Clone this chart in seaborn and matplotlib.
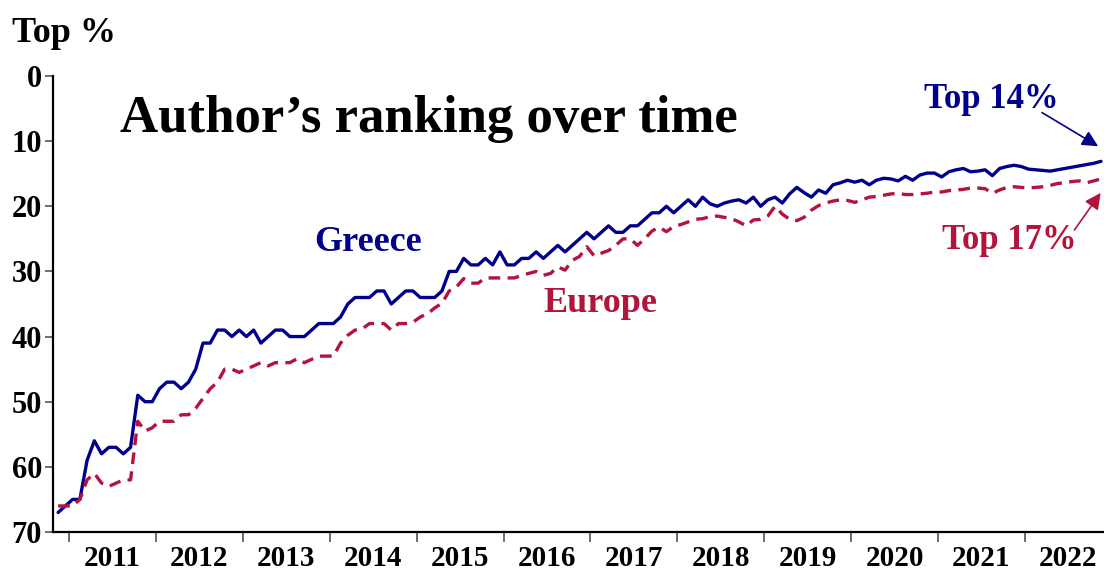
import numpy as np
import pandas as pd
import matplotlib
matplotlib.use("Agg")
import matplotlib.pyplot as plt
import seaborn as sns

# ---- data (monthly, Nov 2010 .. Nov 2022) ----
months = pd.date_range("2010-11-01", periods=145, freq="MS")
greece = [67, 66, 65, 65, 59, 56, 58, 57, 57, 58, 57, 49, 50, 50, 48, 47, 47, 48, 47, 45,
          41, 41, 39, 39, 40, 39, 40, 39, 41, 40, 39, 39, 40, 40, 40, 39, 38, 38, 38, 37,
          35, 34, 34, 34, 33, 33, 35, 34, 33, 33, 34, 34, 34, 33, 30, 30, 28, 29, 29, 28,
          29, 27, 29, 29, 28, 28, 27, 28, 27, 26, 27, 26, 25, 24, 25, 24, 23, 24, 24, 23,
          23, 22, 21, 21, 20, 21, 20, 19, 20, 18.6, 19.6, 20, 19.5, 19.2, 19, 19.5, 18.6, 20, 19, 18.6,
          19.5, 18.1, 17.1, 17.9, 18.6, 17.5, 18, 16.7, 16.4, 16, 16.3, 16, 16.7, 16, 15.7, 15.8, 16.1, 15.4, 16, 15.2,
          14.9, 14.9, 15.5, 14.7, 14.4, 14.2, 14.7, 14.6, 14.4, 15.3, 14.2, 13.9, 13.7, 13.9, 14.3, 14.4, 14.5, 14.6, 14.4, 14.2,
          14.0, 13.8, 13.6, 13.4, 13.1]
europe = [66, 66, 66, 65, 62, 61, 62.5, 63, 62.5, 62, 62, 53, 54.5, 54, 53, 53, 53, 52, 52, 51,
          49.5, 48, 47, 45, 45, 45.5, 45, 44.5, 44, 44.5, 44, 44, 44, 43.4, 44, 43.5, 43, 43, 43, 41,
          39.8, 39, 38.8, 38, 38, 38, 39, 38, 38, 37.8, 37, 36.5, 35.6, 34.9, 33, 32.4, 31.1, 31.8, 31.8, 31,
          31, 31, 31, 31, 30.6, 30.3, 30, 30.6, 30.3, 29.3, 29.8, 28.3, 27.7, 26.2, 27.6, 27.2, 26.8, 26, 25, 25,
          26, 25, 23.8, 23.2, 23.9, 23.1, 22.8, 22.4, 22, 21.9, 21.6, 21.5, 21.7, 21.9, 22.4, 23, 22.1, 22, 21.5, 20,
          21.2, 22, 22.2, 21.7, 20.6, 19.9, 19.5, 19.2, 19, 19.1, 19.4, 19, 18.6, 18.5, 18.3, 18.1, 18, 18.2, 18.2, 18.1,
          18, 17.8, 17.8, 17.6, 17.5, 17.4, 17.2, 17.2, 17.3, 18, 17.5, 17.1, 17, 17.1, 17.2, 17.1, 17, 16.8, 16.5, 16.4,
          16.2, 16.1, 16.4, 16.1, 15.8]
years = list(range(2011, 2023))
year_labels = [str(y) for y in years]
yticks = [0, 10, 20, 30, 40, 50, 60, 70]

NAVY = "#00008C"
RED = "#B2143C"

sns.set_style("white")
plt.rcParams["font.family"] = ["Liberation Serif", "DejaVu Serif"]
plt.rcParams["font.weight"] = "bold"
plt.rcParams["text.color"] = "black"
plt.rcParams["xtick.color"] = "black"
plt.rcParams["ytick.color"] = "black"
plt.rcParams["xtick.labelcolor"] = "black"
plt.rcParams["ytick.labelcolor"] = "black"

t = months.year + (months.month - 1) / 12 + 1 / 24
df = pd.DataFrame({
    "t": np.concatenate([t, t]),
    "v": greece + europe,
    "s": ["Greece"] * len(t) + ["Europe"] * len(t),
})

fig = plt.figure(figsize=(11.04, 5.74), dpi=100)
ax = fig.add_axes([53 / 1104, 1 - 532 / 574, 1 - 53 / 1104, (532 - 76) / 574])

sns.lineplot(data=df[df.s == "Greece"], x="t", y="v", color=NAVY, lw=2.4, ax=ax)
sns.lineplot(data=df[df.s == "Europe"], x="t", y="v", color=RED, lw=2.4, ax=ax,
             dashes=False, linestyle=(0, (3.5, 2.2)))

ax.set_xlim(2010.816, 2022.91)
ax.set_ylim(70, 0)
ax.set_xlabel("")
ax.set_ylabel("")

ax.set_yticks(yticks)
ax.set_yticklabels([str(v) for v in yticks], fontsize=22, fontweight="bold")
ax.tick_params(axis="y", which="major", direction="out", length=6, width=1.2, pad=2, left=True,
               color="#555555", labelcolor="black")

ax.set_xticks(years)
ax.set_xticklabels([])
ax.set_xticks([y + 0.5 for y in years], minor=True)
ax.set_xticklabels(year_labels, minor=True, fontsize=21, fontweight="bold")
ax.tick_params(axis="x", which="major", direction="out", length=7, width=1.2, bottom=True, color="#555555")
ax.tick_params(axis="x", which="minor", length=0, pad=9, labelcolor="black")

for side in ["top", "right"]:
    ax.spines[side].set_visible(False)
for side in ["left", "bottom"]:
    ax.spines[side].set_color("black")
    ax.spines[side].set_linewidth(1.6)
ax.spines["bottom"].set_zorder(5)

fig.text(12 / 1104, 1 - 33 / 574, "Top %", fontsize=26, fontweight="bold", ha="left", va="center")
ax.text(2011.59, 6.6, "Author\u2019s ranking over time", fontsize=38, fontweight="bold",
        ha="left", va="center", color="black")
ax.text(2014.44, 25.5, "Greece", fontsize=26, fontweight="bold", color=NAVY, ha="center", va="center")
ax.text(2017.11, 35.0, "Europe", fontsize=26, fontweight="bold", color=RED, ha="center", va="center")
ax.text(2021.61, 3.6, "Top 14%", fontsize=25, fontweight="bold", color=NAVY, ha="center", va="center")
ax.text(2021.82, 25.3, "Top 17%", fontsize=25, fontweight="bold", color=RED, ha="center", va="center")

ax.annotate("", xy=(2022.87, 11.0), xytext=(2022.17, 5.4),
            arrowprops=dict(arrowstyle="-|>", color=NAVY, lw=1.2, mutation_scale=24))
ax.annotate("", xy=(2022.89, 17.6), xytext=(2022.55, 24.0),
            arrowprops=dict(arrowstyle="-|>", color=RED, lw=1.2, mutation_scale=24))

fig.savefig("out.png", dpi=100)
